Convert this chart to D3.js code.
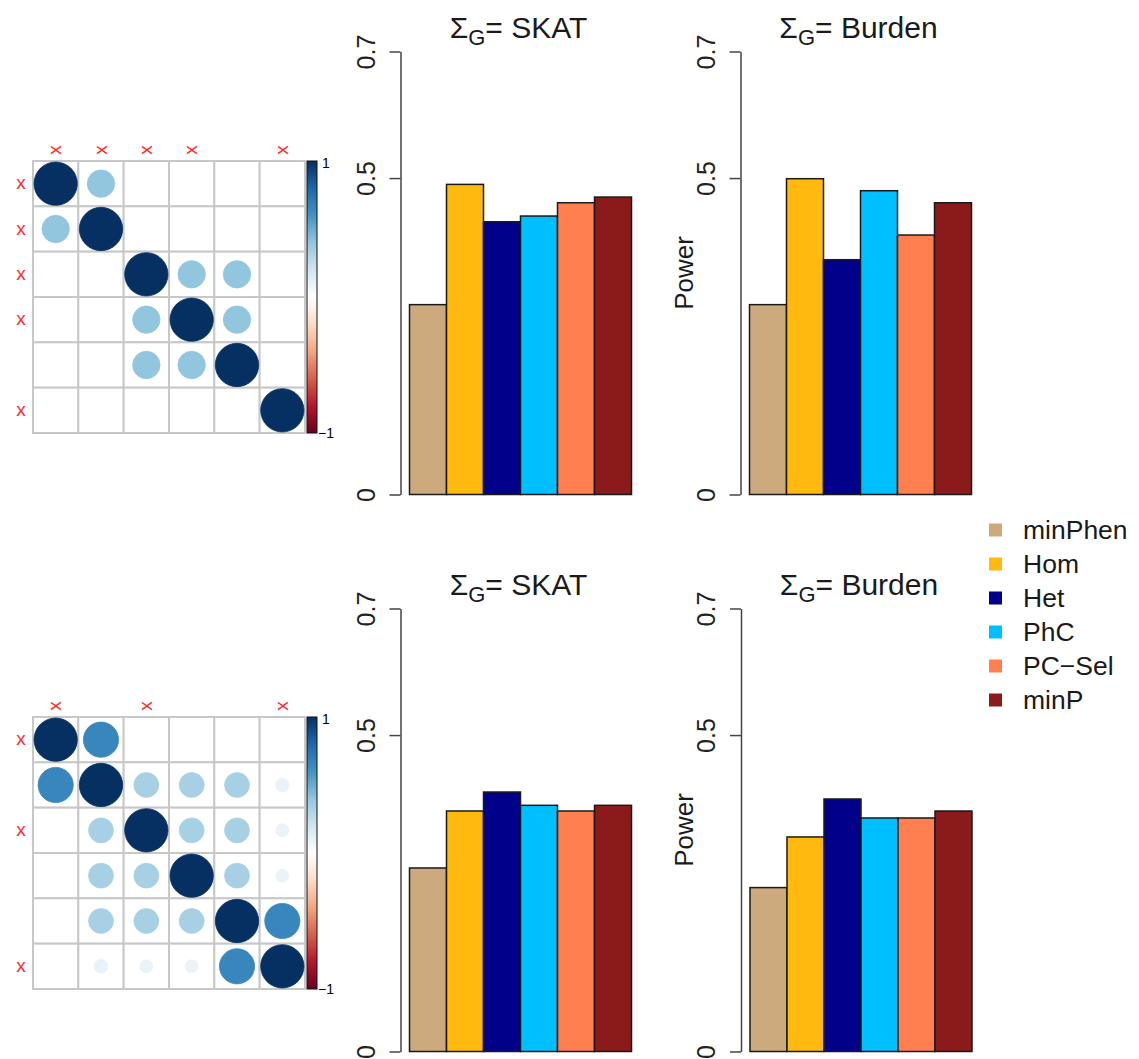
<!DOCTYPE html>
<html>
<head>
<meta charset="utf-8">
<script src="https://cdn.jsdelivr.net/npm/d3@7"></script>
<style>
  html, body { margin: 0; padding: 0; background: #fff; }
  svg { display: block; font-family: "Liberation Sans", Arial, Helvetica, sans-serif; }
</style>
</head>
<body>
<div id="chart"></div>
<script>
// ---- data ----
const methods = ['minPhen', 'Hom', 'Het', 'PhC', 'PC\u2212Sel', 'minP'];
const methodColors = ['#CDAA7D', '#FFB90F', '#00008B', '#00BFFF', '#FF7F50', '#8B1A1A'];

const powerTopSKAT = [0.300, 0.490, 0.431, 0.440, 0.461, 0.470];
const powerTopBurden = [0.300, 0.499, 0.371, 0.480, 0.410, 0.461];
const powerBottomSKAT = [0.290, 0.380, 0.410, 0.389, 0.380, 0.389];
const powerBottomBurden = [0.259, 0.339, 0.399, 0.369, 0.369, 0.380];

const yTicks = [0, 0.5, 0.7];
const yTickLabels = ['0', '0.5', '0.7'];

const corrTop = [
  [1.00, 0.40, 0.01, 0.01, 0.01, 0.01],
  [0.40, 1.00, 0.01, 0.01, 0.01, 0.01],
  [0.01, 0.01, 1.00, 0.40, 0.40, 0.01],
  [0.01, 0.01, 0.40, 1.00, 0.40, 0.01],
  [0.01, 0.01, 0.40, 0.40, 1.00, 0.01],
  [0.01, 0.01, 0.01, 0.01, 0.01, 1.00]
];
const corrBottom = [
  [1.00, 0.66, 0.01, 0.01, 0.01, 0.01],
  [0.66, 1.00, 0.33, 0.33, 0.33, 0.10],
  [0.01, 0.33, 1.00, 0.33, 0.33, 0.09],
  [0.01, 0.33, 0.33, 1.00, 0.33, 0.09],
  [0.01, 0.33, 0.33, 0.33, 1.00, 0.66],
  [0.01, 0.10, 0.09, 0.09, 0.66, 1.00]
];
const markedColsTop = [0, 1, 2, 3, 5];
const markedRowsTop = [0, 1, 2, 3, 5];
const markedColsBottom = [0, 2, 5];
const markedRowsBottom = [0, 2, 5];

// corrplot RdBu ramp, -1 .. 1
const rdbuStops = ['#67001F', '#B2182B', '#D6604D', '#F4A582', '#FDDBC7', '#FFFFFF',
                   '#D1E5F0', '#92C5DE', '#4393C3', '#2166AC', '#053061'];

const W = 1139, H = 1059;
const svg = d3.select('#chart').append('svg').attr('width', W).attr('height', H);

const corrColor = d3.scaleLinear()
  .domain(d3.range(11).map(i => -1 + i * 0.2))
  .range(rdbuStops)
  .interpolate(d3.interpolateRgb);

function drawCorr(g, mat, markCols, markRows, id) {
  const size = 272;
  const idx = d3.range(mat.length);
  const band = d3.scaleBand().domain(idx).range([0, size]);
  const cell = band.bandwidth();
  const r = d3.scaleSqrt().domain([0, 1]).range([0, cell / 2 - 1]);

  // grid
  idx.forEach(i => idx.forEach(j => {
    g.append('rect')
      .attr('x', band(j)).attr('y', band(i))
      .attr('width', cell).attr('height', cell)
      .attr('fill', '#fff').attr('stroke', '#c8c8c8').attr('stroke-width', 2);
  }));

  const cells = [];
  mat.forEach((row, i) => row.forEach((v, j) => cells.push({ i, j, v })));
  g.selectAll('circle.c').data(cells).enter().append('circle')
    .attr('class', 'c')
    .attr('cx', d => band(d.j) + cell / 2)
    .attr('cy', d => band(d.i) + cell / 2)
    .attr('r', d => r(Math.abs(d.v)))
    .attr('fill', d => corrColor(d.v))
    .attr('stroke', d => corrColor(d.v))
    .attr('stroke-width', 0.8);

  // labels
  g.selectAll('text.tl').data(markCols).enter().append('text')
    .attr('transform', d => `translate(${band(d) + cell / 2},-11) rotate(-90)`)
    .attr('text-anchor', 'middle').attr('dy', '0.3em')
    .attr('fill', '#ff2a2a').style('font-size', '19px').text('x');
  g.selectAll('text.ll').data(markRows).enter().append('text')
    .attr('x', -12).attr('y', d => band(d) + cell / 2)
    .attr('text-anchor', 'middle').attr('dy', '0.3em')
    .attr('fill', '#ff2a2a').style('font-size', '19px').text('x');

  // colour legend
  const grad = svg.append('defs').append('linearGradient')
    .attr('id', id).attr('x1', 0).attr('y1', 1).attr('x2', 0).attr('y2', 0);
  rdbuStops.forEach((c, k) => grad.append('stop').attr('offset', k / 10).attr('stop-color', c));
  g.append('rect')
    .attr('x', size + 2).attr('y', 0).attr('width', 10).attr('height', size)
    .attr('fill', `url(#${id})`).attr('stroke', '#111').attr('stroke-width', 1);
  g.append('text').attr('x', size + 17).attr('y', 2).attr('dy', '0.35em')
    .style('font-size', '14px').text('1');
  g.append('text').attr('x', size + 13).attr('y', size).attr('dy', '0.35em')
    .style('font-size', '14px').text('\u22121');
}

function drawBars(g, values, title, showYLabel) {
  const y = d3.scaleLinear().domain([0, 0.7]).range([443, 0]);
  const x = d3.scaleBand().domain(methods).range([9, 231]).padding(0);

  const axis = d3.axisLeft(y).tickValues(yTicks)
    .tickFormat((d, i) => yTickLabels[i]).tickSize(11).tickSizeOuter(0);
  const ax = g.append('g').call(axis);
  ax.select('.domain').attr('stroke', '#444').attr('stroke-width', 1.5);
  ax.selectAll('.tick line').attr('stroke', '#444').attr('stroke-width', 1.5);
  ax.selectAll('.tick text')
    .attr('x', 0).attr('dy', 0)
    .attr('transform', 'translate(-35,0) rotate(-90)')
    .attr('text-anchor', 'middle').attr('dominant-baseline', 'central')
    .attr('fill', '#222')
    .style('font-size', '25px').style('font-family', '"Liberation Sans", Arial, sans-serif');

  g.selectAll('rect.bar').data(values).enter().append('rect')
    .attr('class', 'bar')
    .attr('x', (d, i) => x(methods[i]))
    .attr('y', d => y(d))
    .attr('width', x.bandwidth())
    .attr('height', d => y(0) - y(d))
    .attr('fill', (d, i) => methodColors[i])
    .attr('stroke', '#1a1a1a').attr('stroke-width', 1.5);

  const t = g.append('text')
    .attr('x', 118).attr('y', -14)
    .attr('text-anchor', 'middle')
    .attr('fill', '#1a1a1a')
    .style('font-size', '30px');
  t.append('tspan').text('\u03A3');
  t.append('tspan').attr('dy', 7).style('font-size', '22px').text('G');
  t.append('tspan').attr('dy', -7).text('= ' + title);

  if (showYLabel) {
    g.append('text')
      .attr('transform', `translate(-57,${y(0.35)}) rotate(-90)`)
      .attr('text-anchor', 'middle').attr('dominant-baseline', 'central')
      .attr('fill', '#1a1a1a')
      .style('font-size', '26px').text('Power');
  }
}

drawCorr(svg.append('g').attr('transform', 'translate(33,161)'), corrTop, markedColsTop, markedRowsTop, 'gTop');
drawCorr(svg.append('g').attr('transform', 'translate(33,717)'), corrBottom, markedColsBottom, markedRowsBottom, 'gBot');

drawBars(svg.append('g').attr('transform', 'translate(400.5,51.5)'), powerTopSKAT, 'SKAT', false);
drawBars(svg.append('g').attr('transform', 'translate(740.5,51.5)'), powerTopBurden, 'Burden', true);
drawBars(svg.append('g').attr('transform', 'translate(400.5,608.5)'), powerBottomSKAT, 'SKAT', false);
drawBars(svg.append('g').attr('transform', 'translate(741,608.5)'), powerBottomBurden, 'Burden', true);

// legend
const legend = svg.append('g').attr('transform', 'translate(989,530)');
const ly = d3.scaleBand().domain(methods).range([0, 34 * methods.length]);
methods.forEach((m, i) => {
  const row = legend.append('g').attr('transform', `translate(0,${ly(m)})`);
  row.append('rect').attr('x', 0).attr('y', -6.5).attr('width', 13).attr('height', 13)
    .attr('fill', methodColors[i]);
  row.append('text').attr('x', 34).attr('y', 0).attr('dominant-baseline', 'central')
    .attr('fill', '#1a1a1a').style('font-size', '26.5px').text(m);
});
</script>
</body>
</html>
